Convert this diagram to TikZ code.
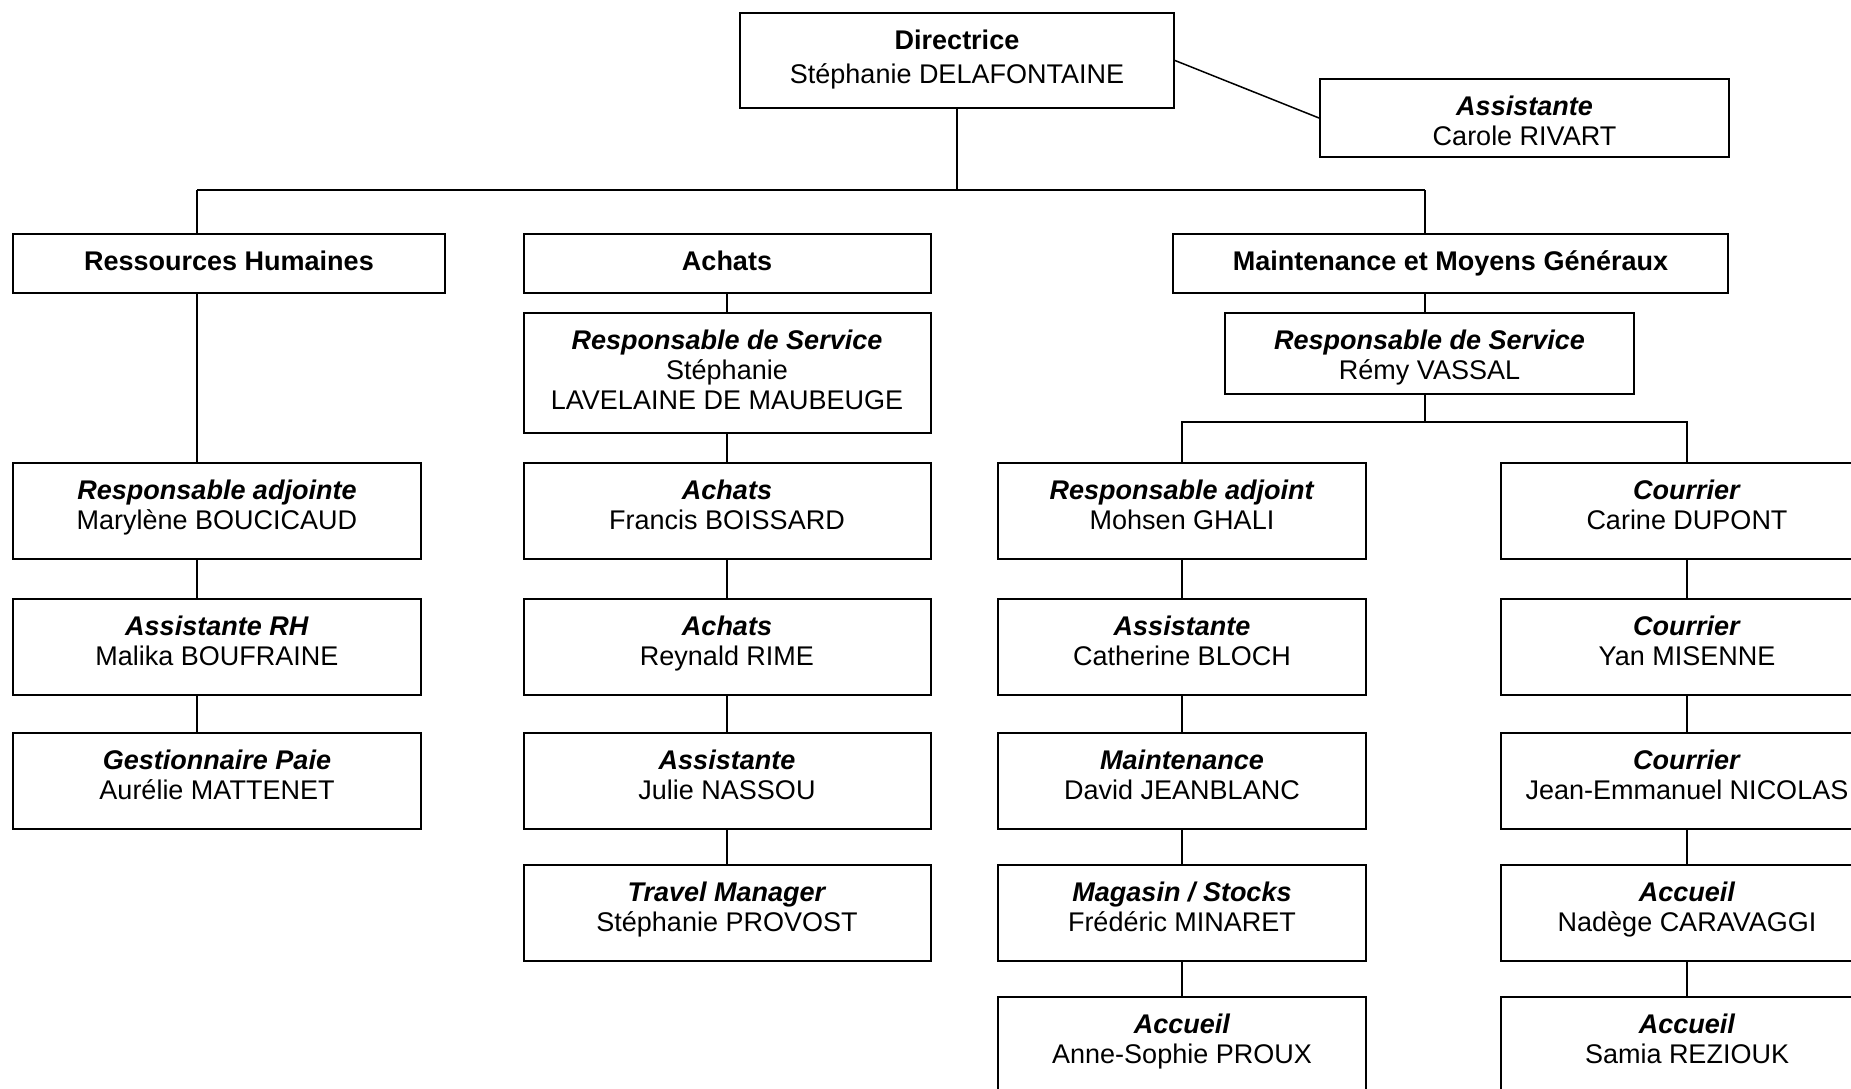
\documentclass[tikz,border=0pt]{standalone}
\usepackage{fontspec}
\setmainfont{Liberation Sans}
\tikzset{
	poste/.style={draw, line width=1pt, fill=white, align=center, inner xsep=2pt, inner ysep=0pt,
		text height=33pt, text depth=15pt, font=\fontsize{13.5pt}{15pt}\selectfont},
	service/.style={poste, text height=18pt, text depth=11.5pt},
	lien/.style={line width=0.75pt},
}
\newcommand{\role}[1]{\textbf{\textit{#1}}}

\begin{document}
\begin{tikzpicture}[x=0.5pt,y=-0.5pt]
	\useasboundingbox (0,0) rectangle (1851,1088);
	\clip (0,0) rectangle (1851,1088);
	\node[poste, minimum width=217pt, text height=35pt, text depth=12.5pt] (dir) at (957,60.5) {\textbf{Directrice}\\[2pt]Stéphanie DELAFONTAINE};
	\node[poste, minimum width=204.5pt, text depth=6pt] (assist) at (1524.5,118) {\role{Assistante}\\Carole RIVART};
	\node[service, minimum width=216pt] (rh) at (229,263.5) {\textbf{Ressources Humaines}};
	\node[service, minimum width=203.5pt] (achats) at (727,263.5) {\textbf{Achats}};
	\node[service, minimum width=277.5pt] (mmg) at (1450.5,263.5) {\textbf{Maintenance et Moyens Généraux}};
	\node[poste, minimum width=203.5pt, text height=48pt, text depth=12pt] (achresp) at (727,373) {\role{Responsable de Service}\\Stéphanie\\LAVELAINE DE MAUBEUGE};
	\node[poste, minimum width=204.5pt, text depth=7.5pt] (mmgresp) at (1429.5,353.5) {\role{Responsable de Service}\\Rémy VASSAL};
	\coordinate (busL) at (197,190);
	\coordinate (busR) at (1425,190);
	\coordinate (fork) at (1425,422);
	% Ressources Humaines
	\node[poste, minimum width=204pt] (rhadj) at (217,511) {\role{Responsable adjointe}\\Marylène BOUCICAUD};
	\node[poste, minimum width=204pt] (rhass) at (217,647) {\role{Assistante RH}\\Malika BOUFRAINE};
	\node[poste, minimum width=204pt] (rhpaie) at (217,781) {\role{Gestionnaire Paie}\\Aurélie MATTENET};
	% Achats
	\node[poste, minimum width=203.5pt] (ach1) at (727,511) {\role{Achats}\\Francis BOISSARD};
	\node[poste, minimum width=203.5pt] (ach2) at (727,647) {\role{Achats}\\Reynald RIME};
	\node[poste, minimum width=203.5pt] (achass) at (727,781) {\role{Assistante}\\Julie NASSOU};
	\node[poste, minimum width=203.5pt] (travel) at (727,913) {\role{Travel Manager}\\Stéphanie PROVOST};
	% Maintenance
	\node[poste, minimum width=184pt] (madj) at (1182,511) {\role{Responsable adjoint}\\Mohsen GHALI};
	\node[poste, minimum width=184pt] (mass) at (1182,647) {\role{Assistante}\\Catherine BLOCH};
	\node[poste, minimum width=184pt] (mmaint) at (1182,781) {\role{Maintenance}\\David JEANBLANC};
	\node[poste, minimum width=184pt] (mstock) at (1182,913) {\role{Magasin / Stocks}\\Frédéric MINARET};
	\node[poste, minimum width=184pt] (macc) at (1182,1045) {\role{Accueil}\\Anne-Sophie PROUX};
	\node[poste, minimum width=186pt] (cour1) at (1687,511) {\role{Courrier}\\Carine DUPONT};
	\node[poste, minimum width=186pt] (cour2) at (1687,647) {\role{Courrier}\\Yan MISENNE};
	\node[poste, minimum width=186pt] (cour3) at (1687,781) {\role{Courrier}\\Jean-Emmanuel NICOLAS};
	\node[poste, minimum width=186pt] (acc1) at (1687,913) {\role{Accueil}\\Nadège CARAVAGGI};
	\node[poste, minimum width=186pt] (acc2) at (1687,1045) {\role{Accueil}\\Samia REZIOUK};

	\draw[lien] (dir.east) -- (assist.west);
	\draw[lien] (dir.south) -- (dir.south |- busL);
	\draw[lien] (busL) -- (busR);
	\draw[lien] (busL) -- (busL |- rh.north);
	\draw[lien] (busR) -- (busR |- mmg.north);
	\draw[lien] (rh.south -| busL) -- (rhadj.north -| busL);
	\draw[lien] (rhadj.south -| busL) -- (rhass.north -| busL);
	\draw[lien] (rhass.south -| busL) -- (rhpaie.north -| busL);
	\draw[lien] (achats.south) -- (achresp.north);
	\draw[lien] (achresp.south) -- (ach1.north);
	\draw[lien] (ach1.south) -- (ach2.north);
	\draw[lien] (ach2.south) -- (achass.north);
	\draw[lien] (achass.south) -- (travel.north);
	\draw[lien] (mmg.south -| busR) -- (mmgresp.north -| busR);
	\draw[lien] (mmgresp.south -| busR) -- (fork);
	\draw[lien] (madj.north) -- (madj.north |- fork) -- (cour1.north |- fork) -- (cour1.north);
	\draw[lien] (madj.south) -- (mass.north);
	\draw[lien] (mass.south) -- (mmaint.north);
	\draw[lien] (mmaint.south) -- (mstock.north);
	\draw[lien] (mstock.south) -- (macc.north);
	\draw[lien] (cour1.south) -- (cour2.north);
	\draw[lien] (cour2.south) -- (cour3.north);
	\draw[lien] (cour3.south) -- (acc1.north);
	\draw[lien] (acc1.south) -- (acc2.north);
\end{tikzpicture}
\end{document}
